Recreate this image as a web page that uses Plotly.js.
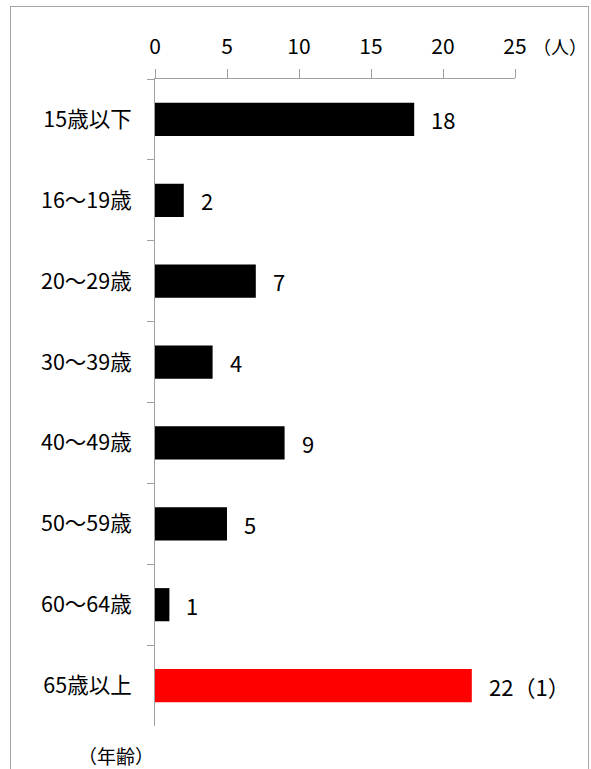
<!DOCTYPE html>
<html>
<head>
<meta charset="utf-8">
<script src="https://cdn.plot.ly/plotly-3.0.1.min.js"></script>
<style>
  html, body { margin: 0; padding: 0; background: #fff; }
  #chart { position: absolute; left: 0; top: 0; width: 591px; height: 769px; }
  #frame { position: absolute; left: 10px; top: 6px; width: 577px; height: 800px;
           border: 1px solid #a6a6a6; pointer-events: none; }
</style>
</head>
<body>
<div id="chart"></div>
<div id="frame"></div>
<script>
const categories = ["15歳以下", "16～19歳", "20～29歳", "30～39歳", "40～49歳", "50～59歳", "60～64歳", "65歳以上"];
const values = [18, 2, 7, 4, 9, 5, 1, 22];
const notes = ["", "", "", "", "", "", "", "（1）"];
const xTicks = [0, 5, 10, 15, 20, 25];
const xUnit = "（人）";
const yUnit = "（年齢）";

const FONT = "'Noto Sans CJK JP', 'Noto Sans', sans-serif";
const colors = categories.map((c, i) => i === categories.length - 1 ? "#ff0000" : "#000000");

const trace = {
  type: "bar",
  orientation: "h",
  y: categories,
  x: values,
  marker: { color: colors, line: { width: 0 } },
  hoverinfo: "skip"
};

const annotations = categories.map((c, i) => ({
  x: values[i], y: c, xref: "x", yref: "y",
  text: String(values[i]) + notes[i],
  showarrow: false, xanchor: "left", yanchor: "middle",
  xshift: 15, font: { family: FONT, size: 22, color: "#000" }
}));
annotations.push({
  xref: "paper", yref: "paper", x: (560 - 155) / 360, y: (726 - 46) / 647,
  text: xUnit, showarrow: false, xanchor: "center", yanchor: "middle",
  font: { family: FONT, size: 18, color: "#000" }
});
annotations.push({
  xref: "paper", yref: "paper", x: (116 - 155) / 360, y: (726 - 756) / 647,
  text: yUnit, showarrow: false, xanchor: "center", yanchor: "middle",
  font: { family: FONT, size: 19, color: "#000" }
});

const layout = {
  width: 591, height: 769,
  margin: { l: 155, r: 76, t: 79, b: 43, pad: 0 },
  paper_bgcolor: "#fff", plot_bgcolor: "#fff",
  showlegend: false,
  bargap: 0.59,
  xaxis: {
    side: "top", range: [0, 25], tickvals: xTicks, ticktext: xTicks.map(String),
    showgrid: false, zeroline: false, showline: true, linecolor: "#a0a0a0", linewidth: 1,
    ticks: "outside", ticklen: 9, tickcolor: "#a0a0a0", tickwidth: 1,
    ticklabelstandoff: 7,
    tickfont: { family: FONT, size: 21, color: "#000" }, fixedrange: true
  },
  yaxis: {
    autorange: "reversed", type: "category",
    showgrid: false, zeroline: false, showline: true, linecolor: "#a0a0a0", linewidth: 1,
    ticks: "outside", tickson: "boundaries", ticklen: 7, tickcolor: "#a0a0a0", tickwidth: 1,
    ticklabelstandoff: 18,
    tickfont: { family: FONT, size: 21.5, color: "#000" }, fixedrange: true
  },
  annotations: annotations
};

Plotly.newPlot("chart", [trace], layout, { displayModeBar: false, staticPlot: true });
</script>
</body>
</html>
